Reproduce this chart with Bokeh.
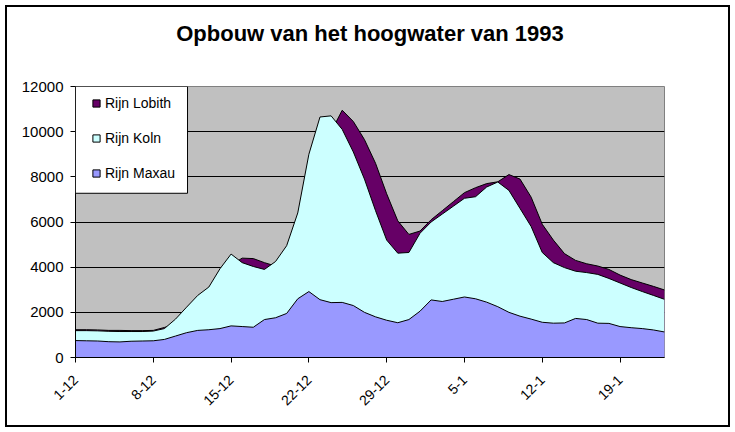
import math
from bokeh.plotting import figure
from bokeh.models import (ColumnDataSource, FixedTicker, Range1d, Legend,
                          LegendItem, BoxAnnotation, LinearAxis, InlineStyleSheet)
from bokeh.embed import file_html
from bokeh.resources import INLINE

days = ["1-12", "2-12", "3-12", "4-12", "5-12", "6-12", "7-12", "8-12", "9-12", "10-12",
        "11-12", "12-12", "13-12", "14-12", "15-12", "16-12", "17-12", "18-12", "19-12", "20-12",
        "21-12", "22-12", "23-12", "24-12", "25-12", "26-12", "27-12", "28-12", "29-12", "30-12",
        "31-12", "1-1", "2-1", "3-1", "4-1", "5-1", "6-1", "7-1", "8-1", "9-1",
        "10-1", "11-1", "12-1", "13-1", "14-1", "15-1", "16-1", "17-1", "18-1", "19-1",
        "20-1", "21-1", "22-1", "23-1"]

lobith = [1230, 1230, 1220, 1200, 1200, 1190, 1190, 1200, 1330, 1500,
          1800, 2300, 2900, 3500, 4100, 4400, 4380, 4200, 4050, 4500,
          5500, 7000, 8700, 10000, 10950, 10450, 9650, 8600, 7250, 6050,
          5450, 5600, 6100, 6500, 6900, 7300, 7520, 7700, 7780, 8100,
          7900, 7100, 5900, 5200, 4600, 4300, 4150, 4050, 3900, 3650,
          3450, 3300, 3150, 2990]

koln = [1190, 1190, 1180, 1160, 1150, 1150, 1150, 1170, 1280, 1700,
        2230, 2750, 3120, 3930, 4580, 4200, 4030, 3900, 4250, 4950,
        6400, 9000, 10650, 10700, 10100, 9100, 7900, 6500, 5200, 4620,
        4650, 5500, 6000, 6350, 6700, 7050, 7120, 7550, 7770, 7400,
        6600, 5800, 4650, 4200, 3980, 3820, 3760, 3680, 3500, 3300,
        3100, 2920, 2750, 2575]

maxau = [750, 740, 730, 700, 690, 720, 730, 740, 800, 950,
         1100, 1200, 1230, 1280, 1400, 1370, 1340, 1680, 1760, 1950,
         2600, 2920, 2560, 2430, 2440, 2300, 2000, 1800, 1650, 1540,
         1680, 2050, 2550, 2480, 2580, 2680, 2600, 2450, 2250, 2000,
         1830, 1700, 1560, 1520, 1530, 1730, 1680, 1520, 1510, 1370,
         1320, 1280, 1220, 1130]

tick_days = ["1-12", "8-12", "15-12", "22-12", "29-12", "5-1", "12-1", "19-1"]
y_ticks = [0, 2000, 4000, 6000, 8000, 10000, 12000]

series_cols = ["lobith", "koln", "maxau"]
series_names = ["Rijn Lobith", "Rijn Koln", "Rijn Maxau"]
series_colors = ["#660066", "#CCFFFF", "#9999FF"]

FONT = "Liberation Sans"

x = list(range(len(days)))
src = ColumnDataSource(dict(x=x, day=days, lobith=lobith, koln=koln, maxau=maxau))

p = figure(width=735, height=432, output_backend="svg", toolbar_location=None,
           x_range=Range1d(0, len(days) - 1), y_range=Range1d(0, 12000),
           min_border_left=75, min_border_right=71, min_border_top=86,
           min_border_bottom=75,
           background_fill_color="#C0C0C0", border_fill_color=None,
           outline_line_color="#808080")

p.title.text = "Opbouw van het hoogwater van 1993"
p.title.align = "center"
p.title.text_font = FONT
p.title.text_font_size = "22px"
p.title.text_font_style = "bold"
p.title.text_color = "black"
p.title.standoff = 0

xaxis = p.below[0]
yaxis = p.left[0]

# invisible spacer between the title and the plot area:
# one tick gives it its height; tick, line and label are not drawn
spacer = LinearAxis(ticker=FixedTicker(ticks=[0]), axis_line_color=None,
                    major_tick_line_color=None, minor_tick_line_color=None,
                    major_tick_out=41, major_tick_in=0, minor_tick_out=0,
                    major_label_standoff=0, major_label_text_color=None)
p.add_layout(spacer, "above")

# overlapping (not stacked) areas, largest series at the back
for col, color in zip(series_cols, series_colors):
    p.varea(x="x", y1=0, y2=col, source=src, fill_color=color, fill_alpha=1.0)
    p.line(x="x", y=col, source=src, line_color="black", line_width=1)

# axes
xaxis.ticker = FixedTicker(ticks=[days.index(t) for t in tick_days])
xaxis.major_label_overrides = {days.index(t): t for t in tick_days}
xaxis.major_label_orientation = math.pi / 4
yaxis.ticker = FixedTicker(ticks=y_ticks)
for ax in (xaxis, yaxis):
    ax.axis_line_color = "black"
    ax.axis_line_width = 1
    ax.major_tick_line_color = "black"
    ax.major_tick_out = 5
    ax.major_tick_in = 0
    ax.minor_tick_line_color = None
    ax.major_label_text_font = FONT
    ax.major_label_text_color = "black"
yaxis.major_label_text_font_size = "15px"
xaxis.major_label_text_font_size = "14px"
yaxis.major_label_standoff = 7
xaxis.major_label_standoff = 15

p.xgrid.visible = False
p.ygrid.ticker = FixedTicker(ticks=y_ticks)
p.ygrid.grid_line_color = "black"
p.ygrid.grid_line_width = 1

# legend box
box = BoxAnnotation(left=0, right=10.08, top=12000, bottom=7272,
                    fill_color="white", fill_alpha=1.0,
                    line_color="black", line_width=1, line_alpha=1.0)
p.add_layout(box)

# legend swatches: outlined squares in the series colours (renderers hidden)
swatches = []
for col, color in zip(series_cols, series_colors):
    s = p.scatter(x="x", y=col, source=src, marker="square", fill_color=color,
                  line_color="black", line_width=1)
    s.visible = False
    swatches.append(s)

legend = Legend(items=[LegendItem(label=n, renderers=[r])
                       for n, r in zip(series_names, swatches)],
                location=(12, 174), padding=0, spacing=15,
                glyph_width=18, glyph_height=18, label_height=20,
                label_standoff=0, label_text_font=FONT,
                label_text_font_size="14px", label_text_color="black",
                border_line_color=None, background_fill_alpha=0.0,
                margin=0)
p.add_layout(legend)

# outer chart border
p.stylesheets = [InlineStyleSheet(
    css=":host { outline: 2px solid black; outline-offset: -7px; }")]

open("out.html", "w").write(file_html(p, INLINE))
